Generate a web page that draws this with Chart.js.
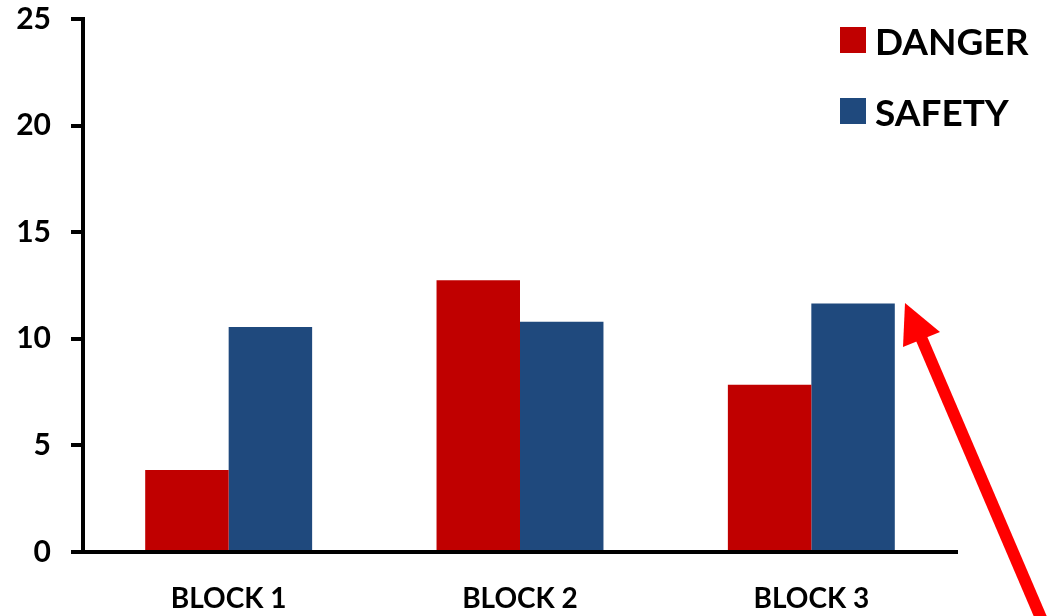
<!DOCTYPE html>
<html>
<head>
<meta charset="utf-8">
<script src="https://cdn.jsdelivr.net/npm/chart.js@4"></script>
<style>
  html, body { margin: 0; padding: 0; background: #fff; overflow: hidden; }
  .wrap { position: relative; width: 1051px; height: 616px; }
  .legend { position: absolute; left: 840px; top: 20px; font-family: Lato, "Open Sans", sans-serif; font-weight: bold; font-size: 37px; color: #000; }
  .legend div { display: flex; align-items: center; height: 40px; margin-bottom: 31px; }
  .legend span.box { width: 26px; height: 26px; margin-right: 9px; display: inline-block; }
</style>
</head>
<body>
<div class="wrap">
  <canvas id="barchart" width="1051" height="616"></canvas>
  <div class="legend" id="legend"></div>
</div>
<script>
const categories = ["BLOCK 1", "BLOCK 2", "BLOCK 3"];
const seriesNames = ["DANGER", "SAFETY"];
const danger = [3.85, 12.75, 7.85];
const safety = [10.55, 10.8, 11.65];
const yTicks = [0, 5, 10, 15, 20, 25];
const colors = ["#C00000", "#1F497D"];

// red arrow pointing at the BLOCK 3 safety bar
const arrowPlugin = {
    id: "arrow",
    afterDraw(chart) {
        const ctx = chart.ctx;
        ctx.save();
        ctx.strokeStyle = "#FF0000";
        ctx.fillStyle = "#FF0000";
        ctx.lineWidth = 12;
        ctx.beginPath();
        ctx.moveTo(1044, 625);
        ctx.lineTo(920, 335);
        ctx.stroke();
        ctx.beginPath();
        ctx.moveTo(905, 303);
        ctx.lineTo(940, 332);
        ctx.lineTo(903, 347);
        ctx.closePath();
        ctx.fill();
        ctx.restore();
    }
};

const legendEl = document.getElementById("legend");
seriesNames.forEach((n, i) => {
    const row = document.createElement("div");
    row.innerHTML = '<span class="box" style="background:' + colors[i] + '"></span>' + n;
    legendEl.appendChild(row);
});

const ctx = document.getElementById("barchart");
new Chart(ctx, {
    type: "bar",
    data: {
        labels: categories,
        datasets: [
            { label: seriesNames[0], data: danger, backgroundColor: colors[0] },
            { label: seriesNames[1], data: safety, backgroundColor: colors[1] }
        ]
    },
    options: {
        responsive: false,
        animation: false,
        layout: { padding: { top: 19, right: 94, left: 0, bottom: 0 } },
        plugins: { legend: { display: false }, tooltip: { enabled: false } },
        datasets: { bar: { categoryPercentage: 0.573, barPercentage: 1.0 } },
        scales: {
            x: {
                grid: { display: false },
                border: { color: "#000", width: 4 },
                ticks: { color: "#000", padding: 22, font: { family: "Lato", weight: "bold", size: 28 } },
                afterFit(scale) { scale.height = 64; scale.paddingLeft = 0; scale.paddingRight = 0; }
            },
            y: {
                min: 0,
                max: 25,
                afterBuildTicks(scale) { scale.ticks = yTicks.map(v => ({ value: v })); },
                grid: { drawOnChartArea: false, color: "#000", lineWidth: 4, tickLength: 12 },
                border: { color: "#000", width: 4 },
                ticks: { color: "#000", padding: 20, font: { family: "Lato", weight: "bold", size: 30 } },
                afterFit(scale) { scale.width = 83; scale.paddingTop = 0; scale.paddingBottom = 0; }
            }
        }
    },
    plugins: [arrowPlugin]
});
</script>
</body>
</html>
